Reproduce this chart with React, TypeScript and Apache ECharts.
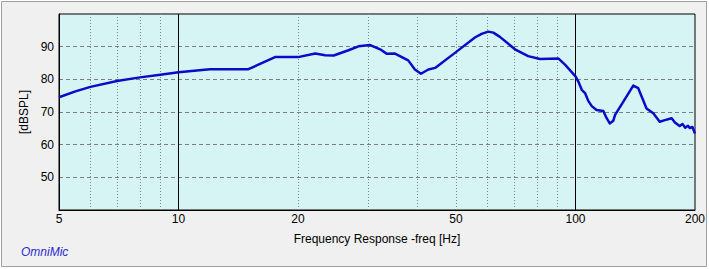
import React, { useEffect, useRef } from "react";
import * as echarts from "echarts";

const freqHz = [
  5, 5.5, 6, 7, 8, 9, 10, 12, 12.5, 15, 17.5, 20, 22.1, 23.4, 24.6, 26.8, 28.4, 30.4,
  32.2, 33.5, 35.1, 37.9, 39.4, 40.8, 42.6, 44.3, 49.7, 55.8, 58, 60.3, 62.1, 64.5,
  70.4, 76, 81.4, 90.5, 94.1, 100, 101.6, 103.7, 105.7, 107.7, 109.9, 113, 117.5,
  119.8, 122, 124.5, 125.8, 132, 139.8, 143.9, 151, 157, 163, 168, 174.7, 178, 183,
  186, 189, 192, 194, 197, 200,
];
const splDb = [
  74.5, 76.3, 77.7, 79.5, 80.6, 81.4, 82.2, 83.1, 83.1, 83.1, 86.8, 86.8, 87.9, 87.4,
  87.3, 88.9, 90.1, 90.5, 89.2, 87.8, 87.9, 85.8, 83.0, 81.7, 83.0, 83.5, 88.1, 92.8,
  93.9, 94.6, 94.3, 93.0, 89.2, 87.1, 86.2, 86.4, 84.5, 80.9, 79.4, 76.8, 75.8, 73.4,
  71.8, 70.6, 70.3, 68.1, 66.5, 67.3, 69.1, 73.2, 78.1, 77.3, 71.1, 69.6, 67.0, 67.5,
  68.1, 66.8, 65.7, 66.3, 65.2, 65.8, 65.1, 65.4, 63.4,
];
const xLabelTicks = [5, 10, 20, 50, 100, 200];
const xMinorGrid = [6, 7, 8, 9, 20, 30, 40, 50, 60, 70, 80, 90];
const xMajorGrid = [10, 100];
const yGrid = [50, 60, 70, 80, 90];

const FONT = "'Liberation Sans', Arial, sans-serif";

export default function App() {
  const ref = useRef<HTMLDivElement>(null);
  useEffect(() => {
    if (!ref.current) return;
    const chart = echarts.init(ref.current, undefined, { renderer: "svg" });
    chart.setOption({
      animation: false,
      backgroundColor: "#ffffff",
      graphic: [
        {
          type: "rect",
          z: -100,
          silent: true,
          shape: { x: 1.5, y: 1.5, width: 705, height: 265 },
          style: { fill: "#f0f0f0", stroke: "#a0a0a0", lineWidth: 1 },
        },
        {
          type: "text",
          left: 21,
          top: 246,
          style: {
            text: "OmniMic",
            fill: "#2a2ad0",
            font: `italic 12px ${FONT}`,
          },
        },
      ],
      grid: {
        left: 59,
        top: 14,
        width: 636,
        height: 196,
        show: true,
        backgroundColor: "#d7f4f4",
        borderColor: "#000000",
        borderWidth: 1,
      },
      xAxis: [
        {
          type: "log",
          logBase: 10,
          min: 5,
          max: 200,
          position: "bottom",
          name: "Frequency Response -freq [Hz]",
          nameLocation: "middle",
          nameGap: 23,
          nameTextStyle: { color: "#000", fontFamily: FONT, fontSize: 12 },
          axisLine: { show: true, lineStyle: { color: "#000", width: 1 } },
          axisTick: { show: false, customValues: xMinorGrid },
          axisLabel: {
            customValues: xLabelTicks,
            color: "#000",
            fontFamily: FONT,
            fontSize: 12,
            margin: 3,
            formatter: (v: number) => String(Math.round(v)),
          },
          splitLine: {
            show: true,
            lineStyle: { color: "#7a8a8a", type: [1, 2], width: 1 },
          },
        },
        {
          type: "log",
          logBase: 10,
          min: 5,
          max: 200,
          axisLine: { show: false },
          axisTick: { show: false, customValues: xMajorGrid },
          axisLabel: { show: false },
          splitLine: {
            show: true,
            lineStyle: { color: "#000", type: "solid", width: 1 },
          },
        },
      ],
      yAxis: {
        type: "value",
        min: 40,
        max: 100,
        interval: 10,
        name: "[dBSPL]",
        nameLocation: "middle",
        nameGap: 28,
        nameRotate: 90,
        nameTextStyle: { color: "#000", fontFamily: FONT, fontSize: 12 },
        axisLine: { show: true, lineStyle: { color: "#000", width: 1 } },
        axisTick: { show: false, customValues: yGrid },
        axisLabel: {
          customValues: yGrid,
          color: "#000",
          fontFamily: FONT,
          fontSize: 12,
          margin: 5,
        },
        splitLine: {
          show: true,
          lineStyle: { color: "#7c8080", type: [4, 3], width: 1 },
        },
      },
      series: [
        {
          type: "line",
          xAxisIndex: 0,
          data: freqHz.map((f, i) => [f, splDb[i]]),
          showSymbol: false,
          smooth: false,
          lineStyle: { color: "#0a0ac8", width: 2.5, join: "round" },
          z: 10,
        },
      ],
    });
    return () => chart.dispose();
  }, []);
  return (
    <div
      ref={ref}
      style={{ position: "fixed", left: 0, top: 0, width: 709, height: 269 }}
    />
  );
}
